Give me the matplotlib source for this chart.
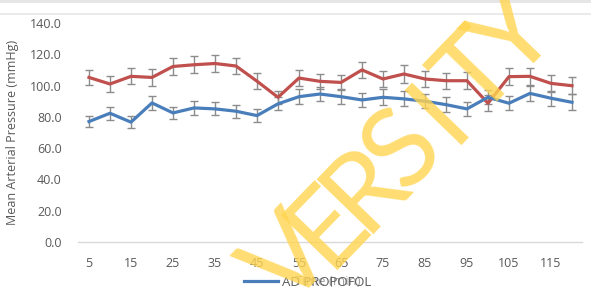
import matplotlib
matplotlib.use("Agg")
import matplotlib.pyplot as plt
from matplotlib.lines import Line2D

time_min = [5, 10, 15, 20, 25, 30, 35, 40, 45, 50, 55, 60, 65, 70, 75, 80, 85, 90, 95, 100, 105, 110, 115, 120]
blue_map = [77.0, 82.3, 76.6, 88.9, 82.5, 85.7, 85.1, 83.6, 80.8, 88.3, 92.9, 94.6, 92.9, 90.8, 92.5, 91.5, 90.0, 87.8, 85.1, 92.5, 88.7, 95.0, 91.9, 89.3]
blue_err = [3.7, 4.0, 3.7, 4.3, 3.9, 4.2, 4.2, 4.2, 4.0, 4.2, 4.8, 4.5, 4.8, 4.6, 5.0, 4.8, 4.5, 4.6, 4.5, 4.5, 4.6, 5.0, 4.8, 5.1]
red_map = [105.2, 101.0, 105.9, 105.2, 112.2, 113.3, 114.1, 112.5, 102.8, 92.5, 104.8, 102.7, 102.0, 110.0, 104.2, 107.4, 104.2, 103.1, 103.1, 88.7, 105.7, 105.9, 101.4, 99.9]
red_err = [4.9, 4.9, 5.1, 5.3, 5.3, 5.4, 5.5, 5.3, 5.1, 4.2, 5.3, 5.0, 4.9, 5.3, 5.3, 5.5, 5.3, 5.1, 5.3, 5.0, 5.5, 5.6, 5.3, 5.3]
xtick_labels = [5, 15, 25, 35, 45, 55, 65, 75, 85, 95, 105, 115]
ytick_vals = [0, 20, 40, 60, 80, 100, 120, 140]
watermark = "VERSITY"

plt.rcParams['font.family'] = ['Open Sans', 'DejaVu Sans']
gray = '#595959'

W, H = 591, 291
fig = plt.figure(figsize=(W / 100, H / 100), dpi=100)
ax = fig.add_axes([0.1328, 0.1684, 0.8528, 0.7526])

ax.errorbar(time_min, red_map, yerr=red_err, color='#C0504D', lw=2.3,
            ecolor='#8C8C8C', elinewidth=1.0, capsize=3, capthick=1.0, zorder=3)
ax.errorbar(time_min, blue_map, yerr=blue_err, color='#4A7EBB', lw=2.3,
            ecolor='#8C8C8C', elinewidth=1.0, capsize=3, capthick=1.0, zorder=3)

ax.set_xlim(2.5, 122.5)
ax.set_ylim(0, 140)
ax.set_xticks(xtick_labels)
ax.set_xticklabels([str(v) for v in xtick_labels])
ax.set_yticks(ytick_vals)
ax.set_yticklabels([f"{v:.1f}" for v in ytick_vals])
ax.tick_params(axis='both', length=0, colors=gray, labelsize=9)
ax.tick_params(axis='y', pad=12)
ax.tick_params(axis='x', pad=11)
for s in ['top', 'right', 'left']:
    ax.spines[s].set_visible(False)
ax.spines['bottom'].set_color('#D9D9D9')
ax.spines['bottom'].set_linewidth(1.0)
ax.set_ylabel('Mean Arterial Pressure (mmHg)', color=gray, fontsize=9, labelpad=8)

fig.text(0.555, 0.033, 'Time (min)', color='#A0A0A0', fontsize=9.5, ha='center', va='center')
fig.legend(handles=[Line2D([0], [0], color='#4A7EBB', lw=2.3)], labels=['AD PROPOFOL'],
           loc='center', bbox_to_anchor=(0.52, 0.03), frameon=False, fontsize=9.5,
           labelcolor=gray, handlelength=2.6, handletextpad=0.3)

# frame decorations
fig.add_artist(plt.Rectangle((0, 0.99), 1, 0.01, transform=fig.transFigure, color='#E6E6E6', lw=0))
fig.add_artist(Line2D([0, 1], [0.953, 0.953], transform=fig.transFigure, color='#E8E8E8', lw=1.2))

# watermark, letters spaced along a diagonal (pixel layout)
cx, cy, step = 403, 150, 37.5
n = len(watermark)
for k, ch in enumerate(watermark):
    off = k - (n - 1) / 2
    px = cx + off * step
    py = cy - off * step
    fig.text(px / W, 1 - py / H, ch, rotation=46, fontsize=80, color='#FFD54F', alpha=0.8,
             family=['Lato', 'Open Sans'], fontweight='normal',
             ha='center', va='center', rotation_mode='anchor', zorder=10)

fig.savefig('out.png', dpi=100)
